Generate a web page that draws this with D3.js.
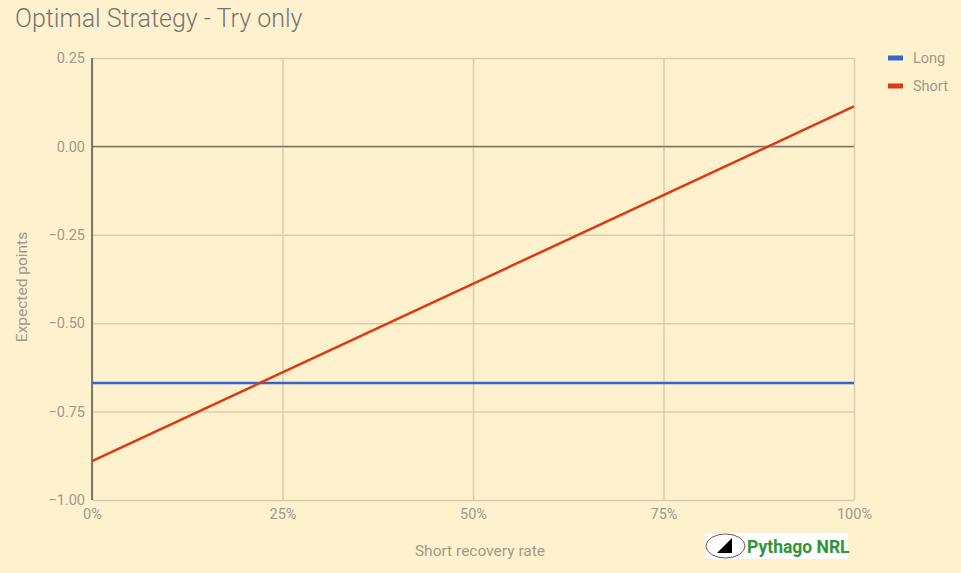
<!DOCTYPE html>
<html><head><meta charset="utf-8">
<script src="https://cdn.jsdelivr.net/npm/d3@7"></script>
<style>
html,body{margin:0;padding:0;background:#fff1cd;}
text{font-family:Roboto,"Noto Sans",sans-serif;}
</style></head>
<body>
<svg id="chart" width="961" height="573"></svg>
<script>
const xValues = [0, 1];
const seriesNames = ["Long", "Short"];
const longValues = [-0.669, -0.669];
const shortValues = [-0.89, 0.113];
const yTicks = [0.25, 0, -0.25, -0.5, -0.75, -1.0];
const xTicks = [0, 0.25, 0.5, 0.75, 1];
const colors = ["#3366cc", "#dc3912"];

const svg = d3.select("#chart");
const W = 961, H = 573;
svg.append("rect").attr("width", W).attr("height", H).attr("fill", "#fff1cd");

const m = {left: 92, right: 854, top: 58, bottom: 500};
const x = d3.scaleLinear().domain([0, 1]).range([m.left, m.right]);
const y = d3.scaleLinear().domain([-1, 0.25]).range([m.bottom, m.top]);

svg.append("text").attr("x", 15).attr("y", 27).attr("font-size", 25).attr("font-weight", 300)
  .attr("fill", "#757575").text("Optimal Strategy - Try only");

// grid
const gy = svg.append("g").attr("transform", `translate(${m.left},0)`)
  .call(d3.axisLeft(y).tickValues(yTicks).tickSize(-(m.right - m.left)).tickFormat(d3.format(".2f")).tickPadding(7));
gy.select(".domain").remove();
gy.selectAll(".tick line").attr("stroke", "#d9cdae").attr("stroke-width", 1.5);
gy.selectAll(".tick text").attr("fill", "#9e9a8f").attr("font-size", 14.5).attr("font-family", "Roboto");

const gx = svg.append("g").attr("transform", `translate(0,${m.bottom})`)
  .call(d3.axisBottom(x).tickValues(xTicks).tickSize(-(m.bottom - m.top)).tickFormat(d3.format(".0%")).tickPadding(9));
gx.select(".domain").remove();
gx.selectAll(".tick line").attr("stroke", "#d9cdae").attr("stroke-width", 1.5);
gx.selectAll(".tick text").attr("fill", "#9e9a8f").attr("font-size", 14.5).attr("font-family", "Roboto");

// zero line and left axis
svg.append("line").attr("x1", m.left).attr("x2", m.right).attr("y1", y(0)).attr("y2", y(0))
  .attr("stroke", "#7d7766").attr("stroke-width", 1.5);
svg.append("line").attr("x1", m.left).attr("x2", m.left).attr("y1", m.top).attr("y2", m.bottom)
  .attr("stroke", "#5a564c").attr("stroke-width", 1.5);

const line = d3.line().x((d, i) => x(xValues[i])).y(d => y(d));
[longValues, shortValues].forEach((vals, i) => {
  svg.append("path").datum(vals).attr("d", line).attr("fill", "none")
    .attr("stroke", colors[i]).attr("stroke-width", 2.5);
});

// legend
seriesNames.forEach((n, i) => {
  const ly = 58 + i * 28;
  svg.append("rect").attr("x", 888).attr("y", ly - 2.5).attr("width", 15).attr("height", 5).attr("fill", colors[i]);
  svg.append("text").attr("x", 913).attr("y", ly + 5).attr("font-size", 14.5).attr("fill", "#9e9a8f").text(n);
});

// axis titles
svg.append("text").attr("x", 480).attr("y", 556).attr("text-anchor", "middle")
  .attr("font-size", 15.5).attr("fill", "#9e9a8f").text("Short recovery rate");
svg.append("text").attr("transform", "translate(27,287) rotate(-90)").attr("text-anchor", "middle")
  .attr("font-size", 15.5).attr("fill", "#9e9a8f").text("Expected points");

// logo
const logo = svg.append("g");
logo.append("rect").attr("x", 705).attr("y", 533).attr("width", 143).attr("height", 26).attr("fill", "#ffffff");
logo.append("ellipse").attr("cx", 725.5).attr("cy", 546).attr("rx", 19.5).attr("ry", 12)
  .attr("fill", "#fff").attr("stroke", "#333").attr("stroke-width", 0.8);
logo.append("path").attr("d", "M717,553 L732,553 L732,538 Z").attr("fill", "#000");
logo.append("text").attr("x", 747).attr("y", 553).attr("font-family", "Liberation Sans, Arial, sans-serif")
  .attr("font-weight", "bold").attr("font-size", 17.5).attr("fill", "#2f9438").text("Pythago NRL");
</script>
</body></html>
